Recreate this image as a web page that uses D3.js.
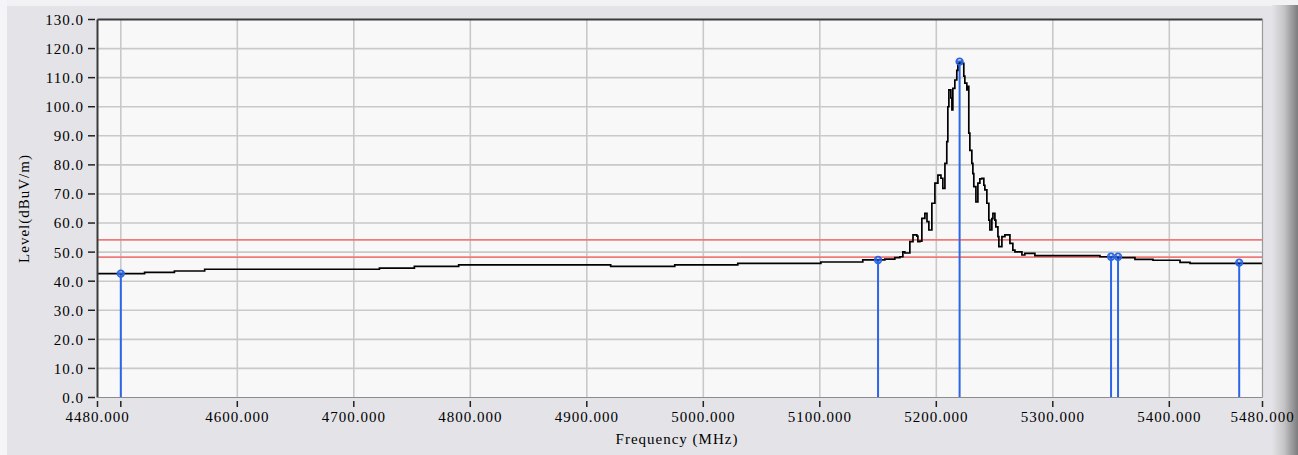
<!DOCTYPE html>
<html>
<head>
<meta charset="utf-8">
<script src="https://cdn.jsdelivr.net/npm/d3@7/dist/d3.min.js"></script>
<style>
  html, body { margin: 0; padding: 0; background: #e4e4e8; }
  svg { display: block; }
  text { font-family: "Liberation Serif", "Times New Roman", serif; font-size: 15px; fill: #000; letter-spacing: 1px; }
</style>
</head>
<body>
<svg id="chart" width="1298" height="455"></svg>
<script>
// Measured spectrum trace (frequency in MHz, level in dBuV/m)
const traceFreq = [
  4480, 4520.4, 4546, 4572, 4722, 4752, 4790, 4920.5, 4975.5, 5029.6,
  5100.9, 5136.9, 5155.8, 5164.4, 5168.7, 5171.3, 5173.0, 5177.3, 5180.0, 5183.3,
  5184.2, 5185.9, 5187.6, 5190.2, 5192.0, 5193.6, 5196.2, 5198.8, 5201.4, 5204.0,
  5205.6, 5207.4, 5209.0, 5209.9, 5210.8, 5212.5, 5213.4, 5214.2, 5215.9, 5217.6,
  5218.5, 5220.2, 5221.9, 5223.6, 5224.5, 5226.2, 5227.0, 5227.9, 5228.8, 5230.5,
  5231.4, 5232.2, 5234.0, 5235.7, 5237.4, 5239.1, 5240.8, 5241.7, 5243.4, 5245.1,
  5246.0, 5247.7, 5248.6, 5250.3, 5251.1, 5252.9, 5253.7, 5256.3, 5258.9, 5261.4,
  5263.2, 5265.7, 5267.5, 5273.5, 5276.0, 5284.6, 5313.0, 5340.5, 5356.0, 5370.5,
  5386.0, 5409.2, 5417.8, 5480
];
const traceLevel = [
  42.6, 43.0, 43.5, 44.1, 44.5, 45.1, 45.6, 45.1, 45.6, 46.1,
  46.6, 47.3, 47.6, 48.1, 48.4, 50.1, 49.7, 53.6, 55.9, 55.5,
  53.6, 53.8, 61.6, 63.3, 60.5, 57.6, 66.8, 73.7, 76.5, 75.4,
  71.9, 80.5, 88.0, 100.0, 105.8, 103.0, 98.9, 106.3, 109.2, 112.5,
  114.9, 115.5, 114.9, 110.5, 108.1, 105.8, 107.0, 90.9, 85.0, 80.5,
  77.0, 72.5, 67.3, 73.7, 75.2, 75.4, 73.0, 71.4, 66.8, 61.0,
  57.6, 61.5, 63.3, 61.0, 58.7, 55.3, 51.9, 55.3, 55.9, 55.9,
  53.0, 50.7, 50.1, 49.0, 49.6, 48.8, 48.8, 48.4, 48.1, 47.5,
  47.2, 46.5, 46.1, 46.1
];

// Marker readings
const markerFreq = [4500, 5150, 5220, 5350, 5356, 5460];
const markerLevel = [42.6, 47.3, 115.5, 48.4, 48.4, 46.4];

// Limit lines
const limitLevels = [54.2, 48.3];

// Axis ticks
const yTicks = [0, 10, 20, 30, 40, 50, 60, 70, 80, 90, 100, 110, 120, 130];
const xTickMarks = [4480, 4500, 4600, 4700, 4800, 4900, 5000, 5100, 5200, 5300, 5400, 5480];
const xTickLabels = [4480, 4600, 4700, 4800, 4900, 5000, 5100, 5200, 5300, 5400, 5480];
const xGrid = [4500, 4600, 4700, 4800, 4900, 5000, 5100, 5200, 5300, 5400];

const svg = d3.select("#chart");
const W = 1298, H = 455;
const plot = { left: 97.5, right: 1262.5, top: 19.5, bottom: 397.5 };

const x = d3.scaleLinear().domain([4480, 5480]).range([plot.left, plot.right]);
const y = d3.scaleLinear().domain([0, 130]).range([plot.bottom, plot.top]);

// Panel background with light bevel strips
svg.append("rect").attr("width", W).attr("height", H).attr("fill", "#e4e4e8");
svg.append("rect").attr("x", 0).attr("y", 0).attr("width", W).attr("height", 6).attr("fill", "#f2f2f5");
svg.append("rect").attr("x", 0).attr("y", 0).attr("width", 7).attr("height", H).attr("fill", "#f5f5f8");

// Right-hand shaded edge
const grad = svg.append("defs").append("linearGradient").attr("id", "edge")
  .attr("x1", "0%").attr("x2", "100%").attr("y1", "0%").attr("y2", "0%");
grad.append("stop").attr("offset", "0%").attr("stop-color", "#e4e4e8");
grad.append("stop").attr("offset", "45%").attr("stop-color", "#c6c6c8");
grad.append("stop").attr("offset", "100%").attr("stop-color", "#7c7c7e");
svg.append("rect").attr("x", 1272).attr("y", 5).attr("width", 26).attr("height", H - 5)
  .attr("fill", "url(#edge)");

// Plot area
svg.append("rect")
  .attr("x", plot.left).attr("y", plot.top)
  .attr("width", plot.right - plot.left).attr("height", plot.bottom - plot.top)
  .attr("fill", "#f8f8f8");

// Grid
const grid = svg.append("g").attr("stroke", "#c9c9c9").attr("stroke-width", 1.6);
grid.selectAll("line.v").data(xGrid).join("line")
  .attr("x1", d => x(d)).attr("x2", d => x(d))
  .attr("y1", plot.top).attr("y2", plot.bottom);
grid.selectAll("line.h").data(yTicks.filter(d => d > 0 && d < 130)).join("line")
  .attr("x1", plot.left).attr("x2", plot.right)
  .attr("y1", d => y(d)).attr("y2", d => y(d));

// Limit lines
svg.append("g").selectAll("line").data(limitLevels).join("line")
  .attr("x1", plot.left).attr("x2", plot.right)
  .attr("y1", d => y(d)).attr("y2", d => y(d))
  .attr("stroke", "#f07a7a").attr("stroke-width", 1.8);

// Marker stems
const markers = markerFreq.map((f, i) => ({ f, v: markerLevel[i] }));
svg.append("g").selectAll("line").data(markers).join("line")
  .attr("x1", d => x(d.f)).attr("x2", d => x(d.f))
  .attr("y1", d => y(d.v)).attr("y2", plot.bottom)
  .attr("stroke", "#2a66e6").attr("stroke-width", 2);

// Trace
const trace = traceFreq.map((f, i) => [f, traceLevel[i]]);
svg.append("path")
  .datum(trace)
  .attr("fill", "none")
  .attr("stroke", "#000")
  .attr("stroke-width", 1.7)
  .attr("d", d3.line().x(d => x(d[0])).y(d => y(d[1])).curve(d3.curveStepAfter));

// Marker heads
const heads = svg.append("g").selectAll("g").data(markers).join("g")
  .attr("transform", d => `translate(${x(d.f)},${y(d.v)})`);
heads.append("circle").attr("r", 3.4)
  .attr("fill", "rgba(42,102,230,0.25)").attr("stroke", "#2a66e6").attr("stroke-width", 1.5);
heads.append("line").attr("x1", -1.8).attr("x2", -1.8).attr("y1", -3).attr("y2", 3)
  .attr("stroke", "#2a66e6").attr("stroke-width", 1);
heads.append("line").attr("x1", 1.8).attr("x2", 1.8).attr("y1", -3).attr("y2", 3)
  .attr("stroke", "#2a66e6").attr("stroke-width", 1);
heads.append("line").attr("x1", -3).attr("x2", 3).attr("y1", 0).attr("y2", 0)
  .attr("stroke", "#2a66e6").attr("stroke-width", 1);

// Frame: dark top/left, lighter bottom/right
svg.append("line").attr("x1", plot.left).attr("x2", plot.right).attr("y1", plot.top).attr("y2", plot.top)
  .attr("stroke", "#3a3a3a").attr("stroke-width", 2);
svg.append("line").attr("x1", plot.left).attr("x2", plot.left).attr("y1", plot.top).attr("y2", plot.bottom)
  .attr("stroke", "#3a3a3a").attr("stroke-width", 2);
svg.append("line").attr("x1", plot.left).attr("x2", plot.right).attr("y1", plot.bottom).attr("y2", plot.bottom)
  .attr("stroke", "#8c8c8c").attr("stroke-width", 1.2);
svg.append("line").attr("x1", plot.right).attr("x2", plot.right).attr("y1", plot.top).attr("y2", plot.bottom)
  .attr("stroke", "#9a9a9a").attr("stroke-width", 1.2);

// Y axis ticks and labels
const yAxis = svg.append("g");
yAxis.selectAll("line").data(yTicks).join("line")
  .attr("x1", 88).attr("x2", 95)
  .attr("y1", d => y(d)).attr("y2", d => y(d))
  .attr("stroke", "#222").attr("stroke-width", 1.5);
yAxis.selectAll("text").data(yTicks).join("text")
  .attr("x", 84).attr("y", d => y(d)).attr("dy", "0.36em")
  .attr("text-anchor", "end")
  .text(d => d3.format(".1f")(d));

// X axis ticks and labels
const xAxis = svg.append("g");
xAxis.selectAll("line").data(xTickMarks).join("line")
  .attr("x1", d => x(d)).attr("x2", d => x(d))
  .attr("y1", 401).attr("y2", 407)
  .attr("stroke", "#222").attr("stroke-width", 1.5);
xAxis.selectAll("text").data(xTickLabels).join("text")
  .attr("x", d => x(d)).attr("y", 422)
  .attr("text-anchor", "middle")
  .text(d => d3.format(".3f")(d));

// Axis titles
svg.append("text")
  .attr("x", (plot.left + plot.right) / 2 - 3).attr("y", 444)
  .attr("text-anchor", "middle")
  .text("Frequency (MHz)");
svg.append("text")
  .attr("transform", `translate(29,${(plot.top + plot.bottom) / 2}) rotate(-90)`)
  .attr("text-anchor", "middle")
  .text("Level(dBuV/m)");
</script>
</body>
</html>
